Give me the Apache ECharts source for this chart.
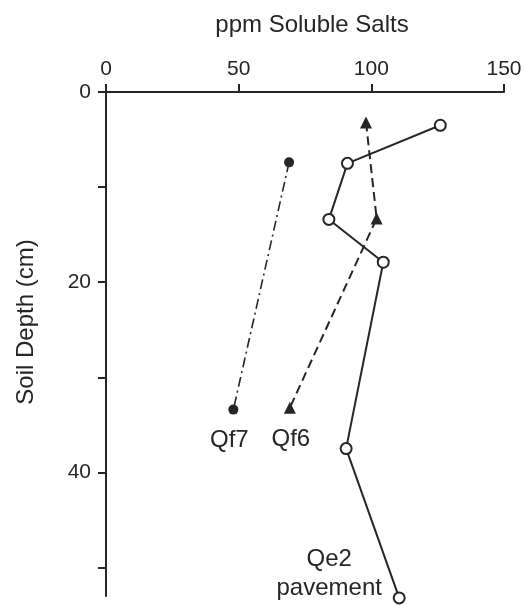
<!DOCTYPE html>
<html>
<head>
<meta charset="utf-8">
<script src="https://cdn.jsdelivr.net/npm/echarts@6/dist/echarts.min.js"></script>
<style>
html,body{margin:0;padding:0;background:#fff;}
#c{width:532px;height:605px;}
</style>
</head>
<body>
<div id="c"></div>
<script>
// ppm soluble salts vs soil depth (cm)
const qe2Salts = [126, 91, 84, 104.5, 90.5, 110.5];
const qe2Depth = [3.5, 7.5, 13.4, 17.9, 37.5, 53.2];
const qf6Salts = [98, 102, 69.3];
const qf6Depth = [3.2, 13.3, 33.2];
const qf7Salts = [69, 48];
const qf7Depth = [7.4, 33.4];
const xTicks = [0, 50, 100, 150];
const yTickValues = [0, 10, 20, 30, 40, 50];
const yLabelValues = [0, 20, 40];
const seriesNames = ['Qe2\npavement', 'Qf6', 'Qf7'];

const ink = '#262626';
const font = 'Liberation Sans, Arial, Helvetica, sans-serif';

function build(xs, ys, labelText, offset) {
  return xs.map((x, i) => {
    const item = { value: [x, ys[i]] };
    if (i === xs.length - 1) {
      item.label = {
        show: true, position: 'inside', formatter: labelText,
        offset: offset, align: 'center', verticalAlign: 'middle',
        color: ink, fontSize: 24, fontFamily: font, lineHeight: 29
      };
    }
    return item;
  });
}

const chart = echarts.init(document.getElementById('c'), null, {renderer: 'canvas'});
chart.setOption({
  backgroundColor: '#ffffff',
  animation: false,
  graphic: [{
    type: 'text', x: 312, y: 25,
    style: { text: 'ppm Soluble Salts', fill: ink, font: '24px ' + font, textAlign: 'center', textVerticalAlign: 'middle' }
  }, {
    type: 'text', x: 26, y: 322, rotation: Math.PI / 2,
    style: { text: 'Soil Depth (cm)', fill: ink, font: '24px ' + font, textAlign: 'center', textVerticalAlign: 'middle' }
  }],
  grid: { left: 106, right: 28, top: 92, bottom: 9, containLabel: false },
  xAxis: {
    type: 'value', position: 'top', min: 0, max: 150, interval: 50,
    axisLine: { show: true, onZero: false, lineStyle: { color: ink, width: 2 } },
    axisTick: { show: true, inside: false, length: 8, lineStyle: { color: ink, width: 2 }, customValues: xTicks },
    axisLabel: { show: true, margin: 12, color: ink, fontSize: 21, fontFamily: font, customValues: xTicks },
    splitLine: { show: false }
  },
  yAxis: {
    type: 'value', inverse: true, min: 0, max: 53, interval: 10,
    axisLine: { show: true, onZero: false, lineStyle: { color: ink, width: 2 } },
    axisTick: { show: true, inside: false, length: 8, lineStyle: { color: ink, width: 2 }, customValues: yTickValues },
    axisLabel: { show: true, margin: 15, color: ink, fontSize: 21, fontFamily: font, customValues: yLabelValues },
    splitLine: { show: false }
  },
  series: [{
    name: seriesNames[0], type: 'line', clip: false, data: build(qe2Salts, qe2Depth, 'Qe2\npavement', [-70, -24]),
    symbol: 'circle', symbolSize: 11,
    lineStyle: { color: ink, width: 2 },
    itemStyle: { color: '#ffffff', borderColor: ink, borderWidth: 2 },
    z: 3
  }, {
    name: seriesNames[1], type: 'line', clip: false, data: build(qf6Salts, qf6Depth, 'Qf6', [1, 32]),
    symbol: 'triangle', symbolSize: 12,
    lineStyle: { color: ink, width: 2, type: [9, 5] },
    itemStyle: { color: ink }
  }, {
    name: seriesNames[2], type: 'line', clip: false, data: build(qf7Salts, qf7Depth, 'Qf7', [-4, 31]),
    symbol: 'circle', symbolSize: 10,
    lineStyle: { color: ink, width: 1.6, type: [10, 4, 2, 4] },
    itemStyle: { color: ink }
  }]
});
</script>
</body>
</html>
